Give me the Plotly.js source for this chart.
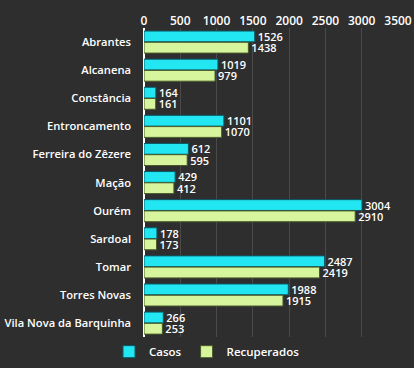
<!DOCTYPE html>
<html><head><meta charset="utf-8">
<script src="https://cdn.plot.ly/plotly-3.0.1.min.js"></script>
<style>html,body{margin:0;padding:0;background:#2e2e2e;}#c{width:414px;height:368px;}</style>
</head><body><div id="c"></div>
<script>
var categories = ["Abrantes","Alcanena","Constância","Entroncamento","Ferreira do Zêzere","Mação","Ourém","Sardoal","Tomar","Torres Novas","Vila Nova da Barquinha"];
var casos = [1526,1019,164,1101,612,429,3004,178,2487,1988,266];
var recuperados = [1438,979,161,1070,595,412,2910,173,2419,1915,253];
var tickVals = [0,500,1000,1500,2000,2500,3000,3500];

var FONT = 'Open Sans, Liberation Sans, Arial';
var common = {type:'bar', orientation:'h', y:categories, textposition:'outside', cliponaxis:false,
  constraintext:'none',
  textfont:{color:'#ffffff', size:11, family:FONT, weight:600}};
var traces = [
  Object.assign({}, common, {name:'Casos', x:casos, text:casos.map(String),
    marker:{color:'#22e6f2', line:{color:'#0a5a66', width:1}}}),
  Object.assign({}, common, {name:'Recuperados', x:recuperados, text:recuperados.map(String),
    marker:{color:'#d6f59c', line:{color:'#4a5a2a', width:1}}})
];
var layout = {
  width:414, height:368,
  paper_bgcolor:'#2e2e2e', plot_bgcolor:'#2e2e2e',
  margin:{l:144, r:16, t:28, b:30},
  barmode:'group', bargap:0.2, bargroupgap:0.04,
  font:{family:FONT, color:'#ffffff', size:11, weight:600},
  xaxis:{side:'top', range:[0,3500], tickvals:tickVals, ticktext:tickVals.map(String),
    showgrid:true, gridcolor:'#4a4a4a', gridwidth:1, zeroline:true, zerolinecolor:'#ffffff', zerolinewidth:1.5,
    tickfont:{color:'#ffffff', size:12, family:FONT, weight:600}, fixedrange:true},
  yaxis:{autorange:'reversed', tickfont:{color:'#ffffff', size:11.2, family:FONT, weight:600}, ticks:'', showgrid:false, ticklabelstandoff:12},
  legend:{orientation:'h', xref:'container', yref:'container', x:0.5, xanchor:'center', y:0.005, yanchor:'bottom',
    font:{color:'#ffffff', size:11.5, family:FONT, weight:600}, itemwidth:30, traceorder:'normal'},
  showlegend:true
};
Plotly.newPlot('c', traces, layout, {displayModeBar:false, staticPlot:true});
</script></body></html>
